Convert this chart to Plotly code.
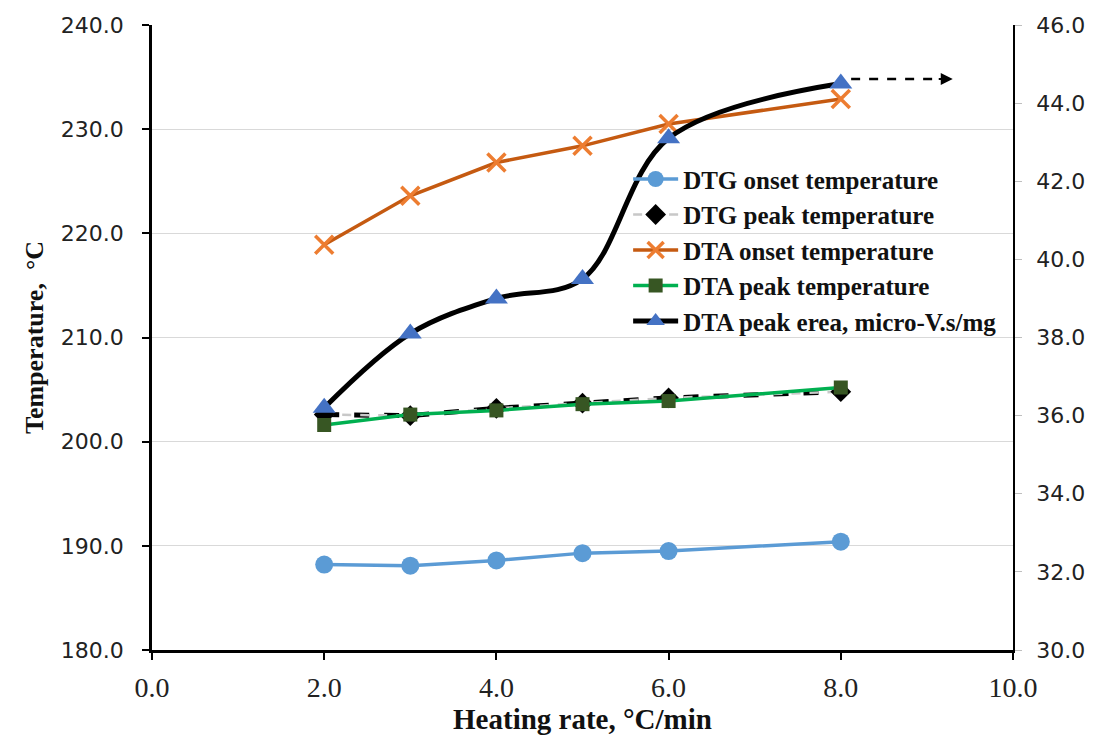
import plotly.graph_objects as go

heating_rate = [2, 3, 4, 5, 6, 8]
dtg_onset = [188.2, 188.1, 188.6, 189.3, 189.5, 190.4]
dtg_peak = [202.6, 202.5, 203.2, 203.7, 204.2, 204.8]
dta_onset = [218.9, 223.6, 226.8, 228.4, 230.5, 232.9]
dta_peak = [201.6, 202.6, 203.0, 203.6, 203.9, 205.2]
dta_area = [36.2, 38.1, 39.0, 39.5, 43.1, 44.5]

names = ["DTG onset temperature", "DTG peak temperature", "DTA onset temperature",
         "DTA peak temperature", "DTA peak erea, micro-V.s/mg"]

SERIF = "Liberation Serif, Times New Roman, serif"
SANS = "DejaVu Sans, Verdana, sans-serif"

fig = go.Figure()

fig.add_trace(go.Scatter(x=heating_rate, y=dtg_onset, name=names[0], mode="lines+markers",
                         line=dict(color="#5B9BD5", width=3.5),
                         marker=dict(symbol="circle", size=18, color="#5B9BD5")))
# DTG peak: black-outlined gray dashed line
fig.add_trace(go.Scatter(x=heating_rate, y=dtg_peak, name=names[1], mode="lines",
                         line=dict(color="#000000", width=5, dash="dash"),
                         legendgroup="dtgp", showlegend=False, hoverinfo="skip"))
fig.add_trace(go.Scatter(x=heating_rate, y=dtg_peak, name=names[1], mode="lines+markers",
                         legendgroup="dtgp",
                         line=dict(color="#C8C8C8", width=2.5, dash="dash"),
                         marker=dict(symbol="diamond", size=16, color="#000000")))
fig.add_trace(go.Scatter(x=heating_rate, y=dta_onset, name=names[2], mode="lines+markers",
                         line=dict(color="#C55A11", width=3.5),
                         marker=dict(symbol="x-thin", size=18,
                                     line=dict(width=3.5, color="#ED7D31"))))
fig.add_trace(go.Scatter(x=heating_rate, y=dta_peak, name=names[3], mode="lines+markers",
                         line=dict(color="#00B050", width=3.5),
                         marker=dict(symbol="square", size=14, color="#375623")))
fig.add_trace(go.Scatter(x=heating_rate, y=dta_area, name=names[4], mode="lines+markers",
                         yaxis="y2",
                         line=dict(color="#000000", width=5, shape="spline", smoothing=1.0),
                         marker=dict(symbol="triangle-up", size=20, color="#4472C4")))

# dashed arrow annotation beyond the last area point
fig.add_shape(type="line", xref="x", yref="y2", x0=8.12, x1=9.15, y0=44.62, y1=44.62,
              line=dict(color="#000000", width=2.5, dash="dash"))
fig.add_annotation(xref="x", yref="y2", axref="x", ayref="y2", x=9.3, y=44.62,
                   ax=9.12, ay=44.62, showarrow=True, arrowhead=2, arrowsize=1.2,
                   arrowwidth=2, arrowcolor="#000000", text="")

fig.update_layout(
    width=1093, height=742,
    margin=dict(l=152, r=80, t=25, b=92),
    plot_bgcolor="white", paper_bgcolor="white",
    showlegend=True,
    legend=dict(x=0.553, y=0.79, xanchor="left", yanchor="top",
                bgcolor="rgba(0,0,0,0)",
                font=dict(family=SERIF, size=25, color="#111111", weight="bold"),
                tracegroupgap=0, itemwidth=45),
    xaxis=dict(range=[0, 10], tickvals=[0, 2, 4, 6, 8, 10],
               ticktext=["0.0", "2.0", "4.0", "6.0", "8.0", "10.0"],
               automargin=False,
               showline=True, linecolor="#000000", linewidth=2.5,
               ticks="outside", ticklen=7, tickcolor="#000000", tickwidth=1.5,
               showgrid=False, zeroline=False, ticklabelstandoff=4,
               tickfont=dict(family=SERIF, size=28, color="#222222"),
               title=dict(text="Heating rate, °C/min", standoff=6,
                          font=dict(family=SERIF, size=29, color="#111111", weight="bold"))),
    yaxis=dict(range=[180, 240], tickvals=[180, 190, 200, 210, 220, 230, 240],
               ticktext=["180.0", "190.0", "200.0", "210.0", "220.0", "230.0", "240.0"],
               automargin=False,
               showline=True, linecolor="#000000", linewidth=2.5,
               ticks="outside", ticklen=7, tickcolor="#000000", tickwidth=1.5,
               showgrid=True, gridcolor="#D9D9D9", gridwidth=1, zeroline=False,
               ticklabelstandoff=14,
               tickfont=dict(family=SANS, size=22, color="#222222"),
               title=dict(text="Temperature,  °C", standoff=10,
                          font=dict(family=SERIF, size=26, color="#111111", weight="bold"))),
    yaxis2=dict(range=[30, 46], tickvals=[30, 32, 34, 36, 38, 40, 42, 44, 46],
                ticktext=["30.0", "32.0", "34.0", "36.0", "38.0", "40.0", "42.0", "44.0", "46.0"],
                overlaying="y", side="right", automargin=False,
                showline=True, linecolor="#000000", linewidth=1.5,
                ticks="outside", ticklen=7, tickcolor="#BFBFBF", tickwidth=1,
                showgrid=False, zeroline=False, ticklabelstandoff=10,
                tickfont=dict(family=SANS, size=22, color="#222222")),
)

fig.write_html("out.html")
